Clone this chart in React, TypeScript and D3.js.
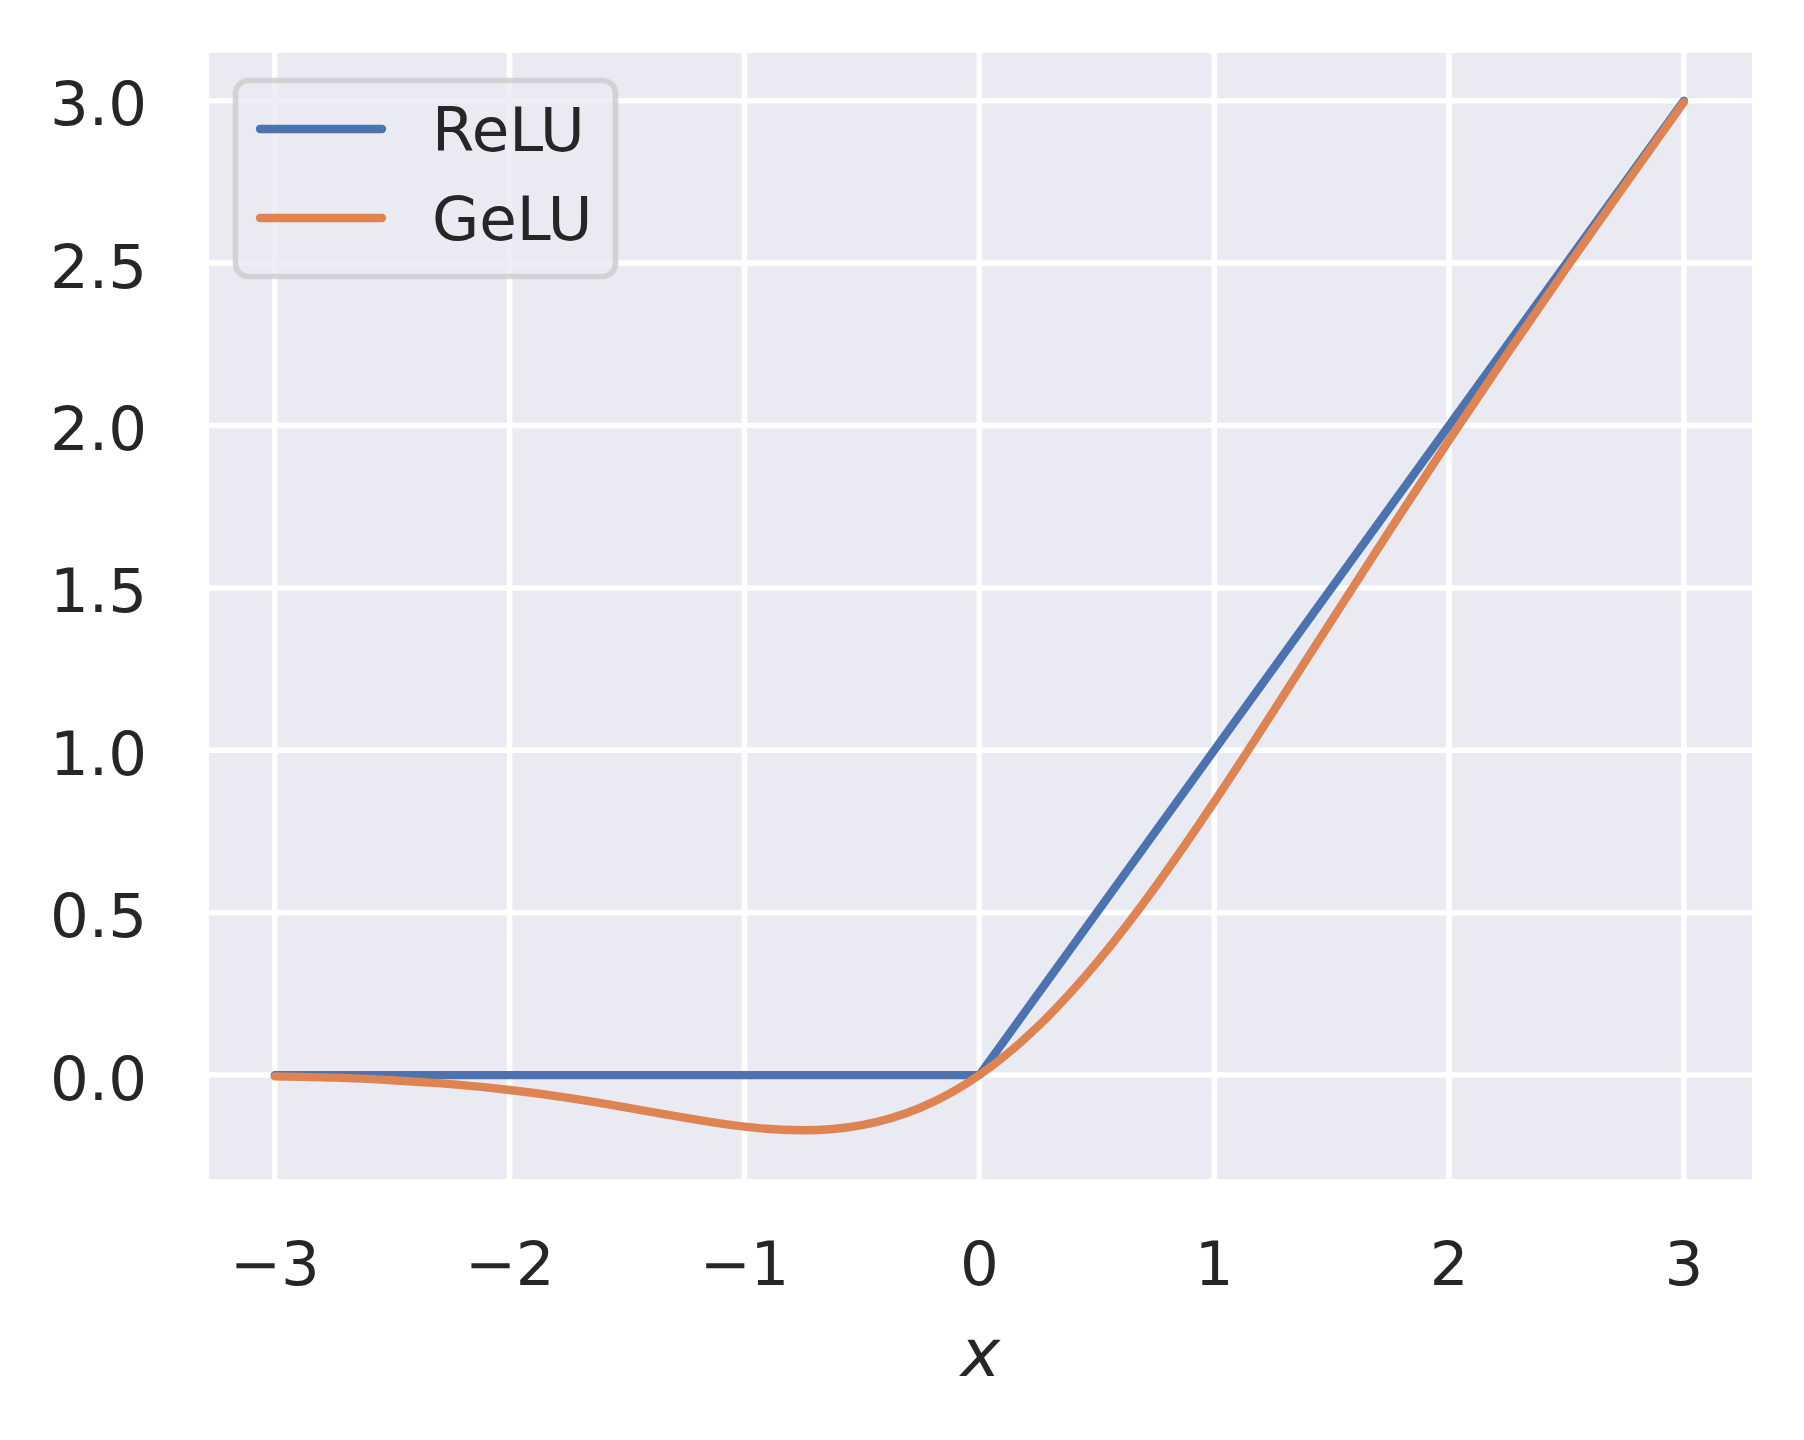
import React from "react";
import * as d3 from "d3";

const reluX = [-3, 0, 3];
const reluY = [0, 0, 3];

const geluX = [-3, -2.75, -2.5, -2.25, -2, -1.75, -1.5, -1.25, -1, -0.75, -0.5, -0.25, 0, 0.25, 0.5, 0.75, 1, 1.25, 1.5, 1.75, 2, 2.25, 2.5, 2.75, 3];
const geluY = [-0.004, -0.008, -0.016, -0.028, -0.046, -0.070, -0.100, -0.132, -0.159, -0.170, -0.154, -0.100, 0, 0.150, 0.346, 0.580, 0.841, 1.118, 1.400, 1.680, 1.955, 2.223, 2.485, 2.742, 2.996];

const xTicks = [-3, -2, -1, 0, 1, 2, 3];
const xTickLabels = ["\u22123", "\u22122", "\u22121", "0", "1", "2", "3"];
const yTicks = [0, 0.5, 1, 1.5, 2, 2.5, 3];
const yTickLabels = ["0.0", "0.5", "1.0", "1.5", "2.0", "2.5", "3.0"];

const seriesNames = ["ReLU", "GeLU"];
const seriesColors = ["#4C72B0", "#DD8452"];

const W = 1804;
const H = 1440;
const left = 209, right = 1752, top = 53, bottom = 1179;

export default function App() {
  const x = d3.scaleLinear().domain([-3.28, 3.29]).range([left, right]);
  const y = d3.scaleLinear().domain([-0.32, 3.147]).range([bottom, top]);

  const line = d3
    .line<[number, number]>()
    .x((d) => x(d[0]))
    .y((d) => y(d[1]));
  const smooth = d3
    .line<[number, number]>()
    .x((d) => x(d[0]))
    .y((d) => y(d[1]))
    .curve(d3.curveNatural);

  const relu = reluX.map((v, i) => [v, reluY[i]] as [number, number]);
  const gelu = geluX.map((v, i) => [v, geluY[i]] as [number, number]);

  const font = "'DejaVu Sans', sans-serif";
  const textColor = "#262626";

  return (
    <svg
      width={W}
      height={H}
      style={{ position: "absolute", left: 0, top: 0, background: "#fff" }}
      fontFamily={font}
    >
      <rect x={left} y={top} width={right - left} height={bottom - top} fill="#EAEAF2" />
      {xTicks.map((t) => (
        <line key={"gx" + t} x1={x(t)} x2={x(t)} y1={top} y2={bottom} stroke="#fff" strokeWidth={5.56} />
      ))}
      {yTicks.map((t) => (
        <line key={"gy" + t} x1={left} x2={right} y1={y(t)} y2={y(t)} stroke="#fff" strokeWidth={5.56} />
      ))}
      <path d={line(relu) || ""} fill="none" stroke={seriesColors[0]} strokeWidth={8.33} strokeLinecap="round" strokeLinejoin="round" />
      <path d={smooth(gelu) || ""} fill="none" stroke={seriesColors[1]} strokeWidth={8.33} strokeLinecap="round" strokeLinejoin="round" />

      {xTicks.map((t, i) => (
        <text key={"tx" + t} x={x(t)} y={1285} textAnchor="middle" fontSize={61} fill={textColor}>
          {xTickLabels[i]}
        </text>
      ))}
      {yTicks.map((t, i) => (
        <text key={"ty" + t} x={147} y={y(t) + 24.5} textAnchor="end" fontSize={61} fill={textColor}>
          {yTickLabels[i]}
        </text>
      ))}
      <text x={(left + right) / 2} y={1376} textAnchor="middle" fontSize={66.7} fontStyle="italic" fill={textColor}>
        x
      </text>

      <g>
        <rect x={235.5} y={80.5} width={380} height={196} rx={13} ry={13} fill="rgba(234,234,242,0.8)" stroke="rgba(204,204,204,0.8)" strokeWidth={5.56} />
        {seriesNames.map((n, i) => (
          <g key={n}>
            <line x1={260} x2={382} y1={129 + i * 89} y2={129 + i * 89} stroke={seriesColors[i]} strokeWidth={8.33} strokeLinecap="round" />
            <text x={432} y={151 + i * 89} fontSize={61} fill={textColor}>
              {n}
            </text>
          </g>
        ))}
      </g>
    </svg>
  );
}
